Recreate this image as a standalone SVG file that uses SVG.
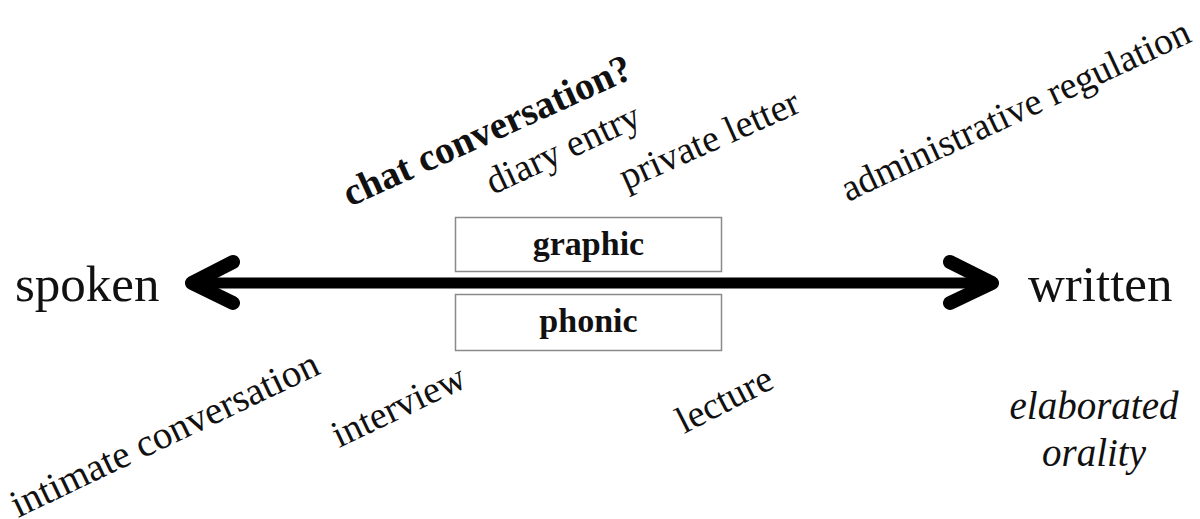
<svg xmlns="http://www.w3.org/2000/svg" width="1200" height="519" viewBox="0 0 1200 519">
<style>
.t{font-family:"Liberation Serif","Times New Roman",serif;fill:#111}
.big{font-size:51px}
.rot{font-size:38px}
.b{font-weight:bold}
.box{fill:#fff;stroke:#8a8a8a;stroke-width:1.5}
.ar{fill:none;stroke:#000;stroke-linecap:round;stroke-linejoin:round}
</style>
<rect width="1200" height="519" fill="#fff"/>
<g id="connectors">
<line class="ar" x1="196" y1="283" x2="988" y2="283" stroke-width="11"/>
<polyline class="ar" points="233,262 192,283 233,303" stroke-width="14"/>
<polyline class="ar" points="950,262 992,283 950,303" stroke-width="14"/>
</g>
<g id="spoken"><text class="t big" x="15" y="301">spoken</text></g>
<g id="written"><text class="t big" x="1028" y="301">written</text></g>
<g id="graphic"><rect class="box" x="455.5" y="217.5" width="266" height="54"/><text class="t b" x="588.5" y="255" font-size="34" text-anchor="middle">graphic</text></g>
<g id="phonic"><rect class="box" x="455.5" y="294.5" width="266" height="56"/><text class="t b" x="588.5" y="332" font-size="34" text-anchor="middle">phonic</text></g>
<g id="chat"><text class="t b" font-size="39" transform="translate(350,207) rotate(-24.5)">chat conversation?</text></g>
<g id="diary"><text class="t rot" transform="translate(493,195) rotate(-25)">diary entry</text></g>
<g id="letter"><text class="t rot" transform="translate(626,190) rotate(-24)">private letter</text></g>
<g id="admin"><text class="t rot" transform="translate(848,202) rotate(-25)">administrative regulation</text></g>
<g id="intimate"><text class="t" font-size="39" transform="translate(18,518) rotate(-25.5)">intimate conversation</text></g>
<g id="interview"><text class="t rot" transform="translate(339,448) rotate(-25.5)">interview</text></g>
<g id="lecture"><text class="t rot" transform="translate(684,434) rotate(-27)">lecture</text></g>
<g id="elaborated"><text class="t" font-size="39" font-style="italic" x="1094" y="419" text-anchor="middle">elaborated</text><text class="t" font-size="39" font-style="italic" x="1094" y="466" text-anchor="middle">orality</text></g>
</svg>
